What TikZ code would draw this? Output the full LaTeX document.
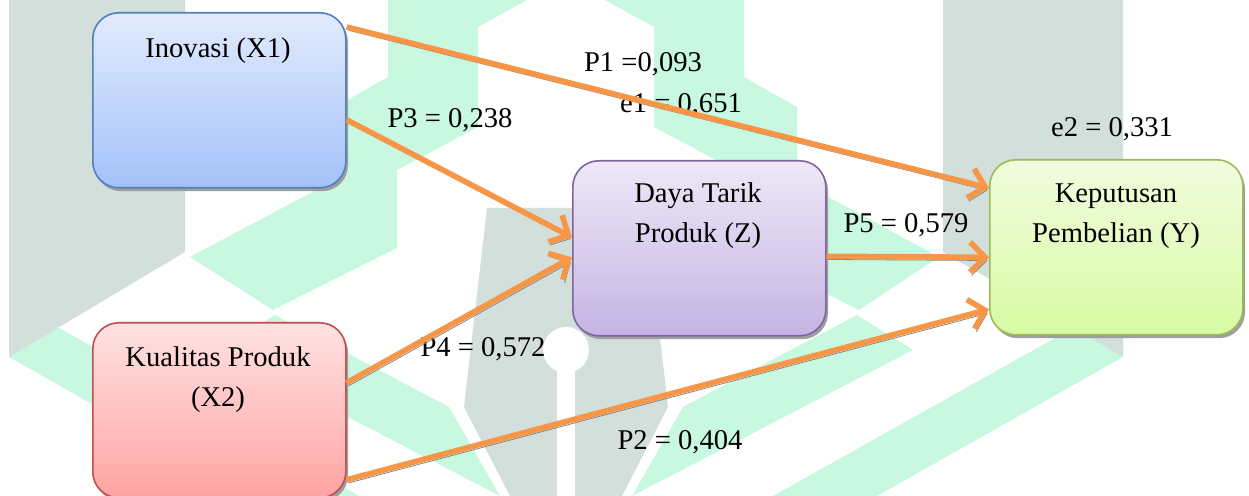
\documentclass[tikz,border=0pt]{standalone}
\usepackage{fontspec}
\setmainfont{Liberation Serif}
\usetikzlibrary{arrows.meta}
\definecolor{wmgreen}{RGB}{201,248,225}
\definecolor{wmgray}{RGB}{211,223,219}
\definecolor{arrorange}{RGB}{247,150,70}
\definecolor{bluebd}{RGB}{79,129,189}
\definecolor{bluetop}{RGB}{226,235,253}
\definecolor{bluebot}{RGB}{163,193,249}
\definecolor{redbd}{RGB}{192,80,77}
\definecolor{redtop}{RGB}{255,226,226}
\definecolor{redbot}{RGB}{255,163,163}
\definecolor{purbd}{RGB}{128,100,162}
\definecolor{purtop}{RGB}{238,232,247}
\definecolor{purbot}{RGB}{197,180,227}
\definecolor{grnbd}{RGB}{155,187,89}
\definecolor{grntop}{RGB}{241,252,222}
\definecolor{grnbot}{RGB}{216,250,163}
\tikzset{
  box/.style={draw=#1bd, top color=#1top, bottom color=#1bot, line width=0.8pt,
    rounded corners=13pt, minimum width=126.5pt, minimum height=87.5pt,
    inner sep=0pt, anchor=north west,
    preaction={fill=black!38, transform canvas={xshift=1.1pt, yshift=-1.7pt}}},
  txt/.style={font=\fontsize{14.3}{20}\selectfont, align=center, anchor=base, inner sep=0pt},
  conn/.style={draw=arrorange, line width=2.8pt, -{Straight Barb[length=7.5pt,width=15pt]},
    preaction={draw=black!48, transform canvas={xshift=0.9pt, yshift=-1.6pt}}},
  wmg/.style={fill=wmgreen},
  wmy/.style={fill=wmgray}
}
\begin{document}
\begin{tikzpicture}[x=0.5pt,y=-0.5pt]
\useasboundingbox (0,0) rectangle (1249,496);
\clip (0,0) rectangle (1249,496);
% watermark
\path[wmg] (388,0) -- (527,0) -- (478,27) -- (478,127) -- (397,170) -- (397,248) -- (273,310) -- (190,257) -- (335,180) -- (335,107) -- (388,77) -- cycle;
\path[wmg] (744,0) -- (605,0) -- (654,27) -- (654,127) -- (735,170) -- (735,248) -- (859,310) -- (939,257) -- (797,180) -- (797,107) -- (744,77) -- cycle;
\path[wmg] (683,407) -- (857,315) -- (913,350) -- (632,496) -- cycle;
\path[wmg] (449,407) -- (275,315) -- (219,350) -- (500,496) -- cycle;
\path[wmg] (773,496) -- (1123,300) -- (1123,357) -- (877,496) -- cycle;
\path[wmg] (359,496) -- (9,300) -- (9,357) -- (255,496) -- cycle;
\path[wmy] (9,0) -- (185,0) -- (185,252) -- (9,357) -- cycle;
\path[wmy] (943,0) -- (1123,0) -- (1123,357) -- (943,252) -- cycle;
\path[wmy] (487,208) -- (645,208) -- (668,407) -- (622,496) -- (510,496) -- (464,407) -- cycle;
\fill[white] (566,350) circle[radius=23];
\fill[white] (557,350) rectangle (575,496);
% labels
\node[txt] (l1) at (643,72) {P1 =0,093};
\node[txt] (le1) at (681,113) {e1 = 0,651};
\node[txt] (l3) at (450,128) {P3 = 0,238};
\node[txt] (le2) at (1112,137) {e2 = 0,331};
\node[txt] (l5) at (906,233) {P5 = 0,579};
\node[txt] (l4) at (483,357) {P4 = 0,572};
\node[txt] (l2) at (680,450) {P2 = 0,404};
% boxes
\node[box=blue] (inov) at (92,12) {};
\node[box=red] (kual) at (92,322) {};
\node[box=pur] (daya) at (572,160) {};
\node[box=grn] (kep) at (989,159) {};
\node[txt] (tinov) at (218,58) {Inovasi (X1)};
\node[txt] (tkual) at (218,407) {Kualitas Produk\\(X2)};
\node[txt] (tdaya) at (698,243) {Daya Tarik\\Produk (Z)};
\node[txt] (tkep) at (1116,243) {Keputusan\\Pembelian (Y)};
% connectors
\draw[conn] ([yshift=-7.5pt]inov.north east) -- ([yshift=-14.5pt]kep.north west);
\draw[conn] ([yshift=-9.75pt]inov.east) -- ([yshift=5.5pt]daya.west);
\draw[conn] ([yshift=13.75pt]kual.east) -- ([yshift=-4.5pt]daya.west);
\draw[conn] ([yshift=-4pt]daya.east) -- ([yshift=-5pt]kep.west);
\draw[conn] ([yshift=-34.75pt]kual.east) -- ([yshift=-31pt]kep.west);
\end{tikzpicture}
\end{document}
